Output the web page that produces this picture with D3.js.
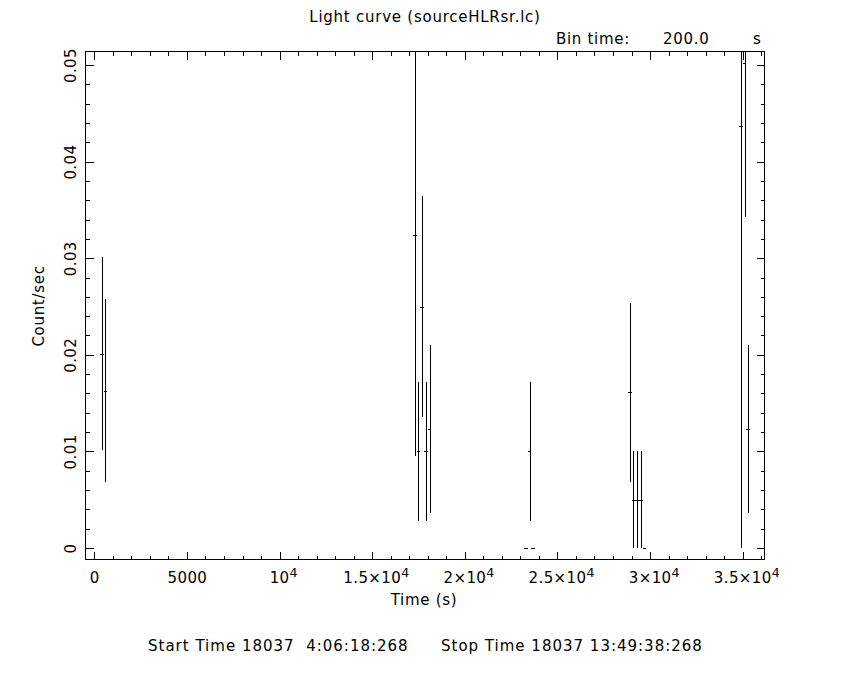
<!DOCTYPE html>
<html>
<head>
<meta charset="utf-8">
<script src="https://cdn.jsdelivr.net/npm/d3@7"></script>
<style>
  html, body { margin: 0; padding: 0; background: #fff; }
  text { font-family: "DejaVu Sans", sans-serif; fill: #000; }
</style>
</head>
<body>
<svg id="chart" width="850" height="680"></svg>
<script>
// ---- data ----
const binTimes = [400, 600, 17300, 17500, 17700, 17900, 18100, 23300, 23500, 23700, 28900, 29100, 29300, 29500, 29700, 34900, 35100, 35300, 35900];
const rates    = [0.0201, 0.0163, 0.0324, 0.0100, 0.0250, 0.0100, 0.0123, 0, 0.0100, 0, 0.0161, 0.0050, 0.0050, 0.0050, 0, 0.0437, 0.0502, 0.0123, 0];
const rateErrs = [0.0100, 0.0095, 0.0229, 0.0072, 0.0114, 0.0072, 0.0087, 0, 0.0072, 0, 0.0093, 0.0050, 0.0050, 0.0050, 0, 0.0437, 0.0159, 0.0087, 0];
const binHalfWidth = 100;
const xMajorTicks = [0, 5000, 10000, 15000, 20000, 25000, 30000, 35000];
const xTickLabels = ["0", "5000", "10^4", "1.5×10^4", "2×10^4", "2.5×10^4", "3×10^4", "3.5×10^4"];
const yMajorTicks = [0, 0.01, 0.02, 0.03, 0.04, 0.05];
const yTickLabels = ["0", "0.01", "0.02", "0.03", "0.04", "0.05"];
const xMinorTicks = d3.range(0, 36001, 1000);
const yMinorTicks = d3.range(0, 0.0501, 0.002);
const titleText = "Light curve (sourceHLRsr.lc)";
const xLabel = "Time (s)";
const yLabel = "Count/sec";

// ---- layout ----
const L = 85.5, R = 764.5, T = 51.5, B = 559.5;
const svg = d3.select("#chart");
const x = d3.scaleLinear().domain([-475, 36178]).range([L, R]);
const y = d3.scaleLinear().domain([-0.00119, 0.0514]).range([B, T]);

const g = svg.append("g").attr("shape-rendering", "crispEdges");

function styleAxis(sel) {
  sel.select(".domain").remove();
  sel.selectAll("line").attr("stroke", "#000").attr("stroke-width", 1);
  sel.selectAll("text").style("font-size", "15px").style("font-family", '"DejaVu Sans", sans-serif')
    .style("letter-spacing", "0.4px");
}

// bottom axis (major + labels)
const xb = g.append("g").attr("transform", `translate(0,${B})`)
  .call(d3.axisBottom(x).tickValues(xMajorTicks).tickSizeInner(-8).tickSizeOuter(0).tickPadding(13)
    .tickFormat((d, i) => xTickLabels[i]));
styleAxis(xb);
xb.selectAll("text").each(function(d, i) {
  const lab = xTickLabels[i];
  const t = d3.select(this).text(null);
  if (lab.includes("^")) {
    const [base, sup] = lab.split("^");
    t.append("tspan").text(base);
    t.append("tspan").attr("dy", "-0.5em").style("font-size", "12.5px").text(sup);
    t.attr("text-anchor", "middle").attr("dx", "0.25em");
  } else t.text(lab);
});
const xbm = g.append("g").attr("transform", `translate(0,${B})`)
  .call(d3.axisBottom(x).tickValues(xMinorTicks.filter(v => !xMajorTicks.includes(v))).tickSizeInner(-4).tickSizeOuter(0).tickFormat(""));
styleAxis(xbm);
// top axis mirror
const xt = g.append("g").attr("transform", `translate(0,${T})`)
  .call(d3.axisTop(x).tickValues(xMajorTicks).tickSizeInner(-8).tickSizeOuter(0).tickFormat(""));
styleAxis(xt);
const xtm = g.append("g").attr("transform", `translate(0,${T})`)
  .call(d3.axisTop(x).tickValues(xMinorTicks.filter(v => !xMajorTicks.includes(v))).tickSizeInner(-4).tickSizeOuter(0).tickFormat(""));
styleAxis(xtm);

// left axis
const yl = g.append("g").attr("transform", `translate(${L},0)`)
  .call(d3.axisLeft(y).tickValues(yMajorTicks).tickSizeInner(-8).tickSizeOuter(0)
    .tickFormat((d, i) => yTickLabels[i]));
styleAxis(yl);
yl.selectAll("text")
  .attr("x", null).attr("dy", null)
  .attr("text-anchor", "middle")
  .attr("transform", "translate(-9.5,0) rotate(-90)");
const isMajorY = v => yMajorTicks.some(m => Math.abs(m - v) < 1e-9);
const ylm = g.append("g").attr("transform", `translate(${L},0)`)
  .call(d3.axisLeft(y).tickValues(yMinorTicks.filter(v => !isMajorY(v))).tickSizeInner(-4).tickSizeOuter(0).tickFormat(""));
styleAxis(ylm);
// right axis mirror
const yr = g.append("g").attr("transform", `translate(${R},0)`)
  .call(d3.axisRight(y).tickValues(yMajorTicks).tickSizeInner(-8).tickSizeOuter(0).tickFormat(""));
styleAxis(yr);
const yrm = g.append("g").attr("transform", `translate(${R},0)`)
  .call(d3.axisRight(y).tickValues(yMinorTicks.filter(v => !isMajorY(v))).tickSizeInner(-4).tickSizeOuter(0).tickFormat(""));
styleAxis(yrm);

// frame
g.append("rect").attr("x", L).attr("y", T).attr("width", R - L).attr("height", B - T)
  .attr("fill", "none").attr("stroke", "#000").attr("stroke-width", 1);

// data
svg.append("clipPath").attr("id", "clip").append("rect")
  .attr("x", L).attr("y", T).attr("width", R - L).attr("height", B - T);
const pts = binTimes.map((t, i) => ({ t, r: rates[i], e: rateErrs[i] }));
const dg = g.append("g").attr("clip-path", "url(#clip)").attr("stroke", "#000").attr("stroke-width", 1);
dg.selectAll("line.h").data(pts).join("line").attr("class", "h")
  .attr("x1", d => x(d.t - binHalfWidth)).attr("x2", d => x(d.t + binHalfWidth))
  .attr("y1", d => Math.round(y(d.r)) + 0.5).attr("y2", d => Math.round(y(d.r)) + 0.5);
dg.selectAll("line.v").data(pts.filter(d => d.e > 0)).join("line").attr("class", "v")
  .attr("x1", d => Math.round(x(d.t)) + 0.5).attr("x2", d => Math.round(x(d.t)) + 0.5)
  .attr("y1", d => y(d.r - d.e)).attr("y2", d => y(d.r + d.e));

// texts
svg.append("text").attr("x", 425).attr("y", 22).attr("text-anchor", "middle")
  .style("font-size", "15px").style("letter-spacing", "0.75px").text(titleText);
svg.append("text").attr("x", 556).attr("y", 44).style("font-size", "15px").style("letter-spacing", "0.7px").text("Bin time:");
svg.append("text").attr("x", 663).attr("y", 44).style("font-size", "15px").style("letter-spacing", "0.7px").text("200.0");
svg.append("text").attr("x", 753).attr("y", 44).style("font-size", "15px").text("s");
svg.append("text").attr("x", 424).attr("y", 605).attr("text-anchor", "middle")
  .style("font-size", "15px").style("letter-spacing", "0.7px").text(xLabel);
svg.append("text").attr("transform", "translate(44,306) rotate(-90)").attr("text-anchor", "middle")
  .style("font-size", "15px").style("letter-spacing", "0.7px").text(yLabel);
svg.append("text").attr("x", 148).attr("y", 651).style("font-size", "15px").style("white-space", "pre")
  .style("letter-spacing", "1px").text("Start Time 18037  4:06:18:268");
svg.append("text").attr("x", 441).attr("y", 651).style("font-size", "15px").style("white-space", "pre")
  .style("letter-spacing", "1px").text("Stop Time 18037 13:49:38:268");
</script>
</body>
</html>
